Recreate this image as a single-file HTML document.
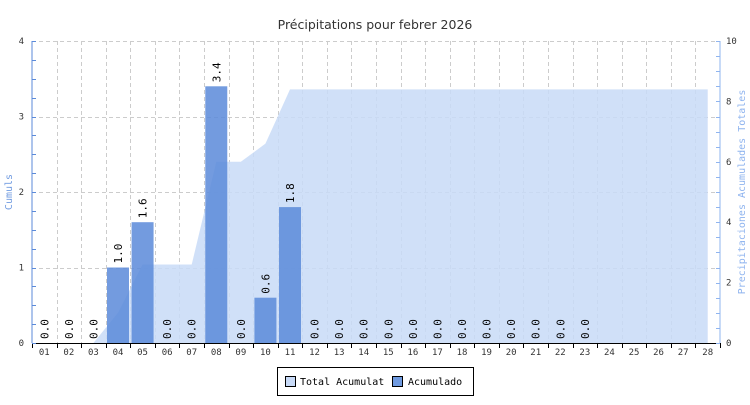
<!DOCTYPE html>
<html><head><meta charset="utf-8"><style>
body{margin:0;background:#fff;width:750px;height:400px;overflow:hidden}
text{font-family:"DejaVu Sans Mono","Liberation Mono",monospace}
</style></head><body>
<svg width="750" height="400" xmlns="http://www.w3.org/2000/svg">
<text x="375" y="29" text-anchor="middle" font-size="12.5" fill="#333" style="font-family:'DejaVu Sans',sans-serif">Précipitations pour febrer 2026</text>
<g id="grid" stroke="#ccc" stroke-dasharray="4,3" stroke-width="1"></g>
<polygon id="area" fill="#c8daf7" fill-opacity="0.85"></polygon>
<g id="bars" fill="#5b8ad9" fill-opacity="0.85"></g>
<g id="labels" font-size="11" fill="#000"></g>
<line x1="32" y1="41" x2="32" y2="343" stroke="#5b8ad9"/>
<line x1="720" y1="41" x2="720" y2="343" stroke="#8fb4ef"/>
<line x1="32" y1="343.5" x2="720" y2="343.5" stroke="#000"/>
<g id="ticks"></g>
<g font-size="9" fill="#333" style="font-family:'DejaVu Sans',sans-serif" id="ax"></g>
<text transform="translate(12,192) rotate(-90)" text-anchor="middle" font-size="10" fill="#6f9ae0">Cumuls</text>
<text transform="translate(745,192) rotate(-90)" text-anchor="middle" font-size="10" fill="#8fb4ef">Precipitaciones Acumulades Totales</text>
<rect x="277.5" y="367.5" width="196" height="28" fill="#fff" stroke="#000"/>
<rect x="285.5" y="376.5" width="10" height="10" fill="#c8daf7" stroke="#000"/>
<text x="300" y="385" font-size="10">Total Acumulat</text>
<rect x="392.5" y="376.5" width="10" height="10" fill="#6f9ae0" stroke="#000"/>
<text x="408" y="385" font-size="10">Acumulado</text>
</svg>
<script>
const ns="http://www.w3.org/2000/svg";
function el(p,t,a,txt){const e=document.createElementNS(ns,t);for(const k in a)e.setAttribute(k,a[k]);if(txt!==undefined)e.textContent=txt;document.getElementById(p).appendChild(e);return e;}
const L=32,R=720,T=41,B=343,w=(R-L)/28;
for(let i=1;i<28;i++){const x=Math.round(L+i*w)+0.5;el("grid","line",{x1:x,y1:T,x2:x,y2:B});}
for(let v=1;v<=4;v++){const y=Math.round(B-v*75.5)+0.5;el("grid","line",{x1:L,y1:y,x2:R,y2:y});}
const d=[0,0,0,1,1.6,0,0,3.4,0,0.6,1.8,0,0,0,0,0,0,0,0,0,0,0,0];
let c=0,pts=[],cum=[];
for(let i=0;i<28;i++){c+=(d[i]||0);cum.push(c);}
const cx=i=>L+(i+0.5)*w;
pts.push(cx(2)+","+B);
for(let i=2;i<28;i++)pts.push(cx(i)+","+(B-cum[i]*30.2));
pts.push(cx(27)+","+B);
document.getElementById("area").setAttribute("points",pts.join(" "));
for(let i=0;i<d.length;i++){const x=cx(i),h=d[i]*75.5;
 if(h>0)el("bars","rect",{x:x-11,y:B-h,width:22,height:h});
 const y=B-h-4;
 el("labels","text",{transform:`translate(${x+4},${y}) rotate(-90)`},d[i].toFixed(1));}
for(let i=0;i<=28;i++){const x=Math.round(L+i*w)+0.5;el("ticks","line",{x1:x,y1:B,x2:x,y2:B+5,stroke:"#000"});}
for(let i=0;i<28;i++)el("ax","text",{x:cx(i),y:355,"text-anchor":"middle"},String(i+1).padStart(2,"0"));
for(let v=0;v<=4;v++){const y=B-v*75.5;el("ax","text",{x:24,y:y+3,"text-anchor":"end"},v);}
for(let v=0;v<=16;v++){const y=Math.round(B-v*18.875)+0.5;el("ticks","line",{x1:L,y1:y,x2:L+4,y2:y,stroke:"#5b8ad9"});}
for(let v=0;v<=10;v+=0.5){const y=Math.round(B-v*30.2)+0.5;el("ticks","line",{x1:R-4,y1:y,x2:R,y2:y,stroke:"#8fb4ef"});}
for(let v=0;v<=10;v+=2){const y=B-v*30.2;el("ax","text",{x:726,y:y+3},v);}
</script>
</body></html>
